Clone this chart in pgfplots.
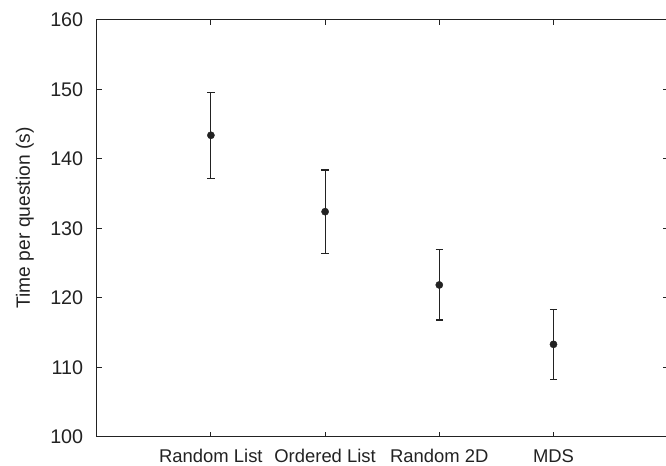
\documentclass[border=0pt]{standalone}
\usepackage{pgfplots}
\pgfplotsset{compat=1.18}
\usepackage{fontspec}
\setmainfont{Liberation Sans}
\definecolor{axc}{HTML}{222222}
\begin{document}
\begin{tikzpicture}
\begin{axis}[
  scale only axis,
  width=571bp, height=416.7bp,
  xmin=0, xmax=5, ymin=100, ymax=160,
  xtick={1,2,3,4},
  xticklabels={Random List, Ordered List, Random 2D, MDS},
  ytick={100,110,...,160},
  tick align=inside,
  major tick length=5bp,
  axis line style={axc, line width=1bp},
  every tick/.style={axc, line width=1bp},
  /pgf/number format/assume math mode=true,
  yticklabel style={font=\fontsize{19.8}{22}\selectfont, color=axc, xshift=-10bp},
  xticklabel style={font=\fontsize{18.5}{22}\selectfont, color=axc, yshift=-9bp},
  ylabel={Time per question (s)},
  ylabel style={font=\fontsize{19.3}{22}\selectfont, color=axc, at={(rel axis cs:0,0.525)}, anchor=base, yshift=66.7bp},
  clip=false,
]
\addplot+[only marks, mark=*, mark size=3.6bp, color=axc, mark options={fill=axc, draw=axc},
  error bars/.cd, y dir=both, y explicit,
  error bar style={axc, line width=1.1bp},
  error mark options={mark size=3.7bp, line width=1.1bp, axc, rotate=90}]
  coordinates {
  (1,143.4) +- (0,6.2)
  (2,132.4) +- (0,6.0)
  (3,121.85) +- (0,5.05)
  (4,113.3) +- (0,5.0)
  };
\end{axis}
\pgfresetboundingbox
\path[use as bounding box] (-96.7bp,-29.3bp) rectangle (569.3bp,436.7bp);
\end{tikzpicture}
\end{document}
